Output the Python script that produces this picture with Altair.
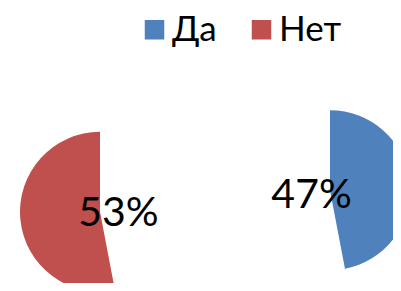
import math
import altair as alt
import pandas as pd

labels = ["Да", "Нет"]
values = [47, 53]
percent_text = ["47%", "53%"]
colors = ["#4F81BD", "#C0504D"]
order = [0, 1]

df = pd.DataFrame({"label": labels, "value": values, "text": percent_text, "order": order})

CX, CY = 207, 193       # pie centre inside the plot area
R = 80                  # slice radius
EXPLODE = 115.5         # how far each slice is pulled out
LABEL_D = 97            # distance of the percentage labels from the centre

base = (
    alt.Chart(df)
    .transform_window(cum="sum(value)", sort=[alt.SortField("order")], frame=[None, 0])
    .transform_joinaggregate(total="sum(value)")
    .transform_calculate(
        start="(datum.cum - datum.value) / datum.total",
        end="datum.cum / datum.total",
    )
    .transform_calculate(
        px=f"{CX} + {EXPLODE} * sin(PI * (datum.start + datum.end))",
        py=f"{CY} - {EXPLODE} * cos(PI * (datum.start + datum.end))",
        lx=f"{CX} + {LABEL_D} * sin(PI * (datum.start + datum.end))",
        ly=f"{CY} - {LABEL_D} * cos(PI * (datum.start + datum.end))",
    )
)

arcs = base.mark_arc(radius=R).encode(
    theta=alt.Theta("start:Q", scale=alt.Scale(domain=[0, 1], range=[0, 2 * math.pi]), stack=False),
    theta2="end:Q",
    x=alt.X("px:Q", scale=None, axis=None),
    y=alt.Y("py:Q", scale=None, axis=None),
    color=alt.Color(
        "label:N",
        scale=alt.Scale(domain=labels, range=colors),
        legend=alt.Legend(
            title=None,
            orient="none",
            legendX=129,
            legendY=4,
            direction="horizontal",
            symbolType="square",
            symbolSize=380,
            symbolStrokeWidth=0,
            symbolOpacity=1,
            labelFontSize=35,
            labelFont="Lato",
            labelColor="black",
            labelOffset=0,
            columnPadding=27,
        ),
    ),
)

texts = base.mark_text(font="Lato", fontSize=41, color="black", dy=4).encode(
    x=alt.X("lx:Q", scale=None, axis=None),
    y=alt.Y("ly:Q", scale=None, axis=None),
    text="text:N",
)

chart = (
    alt.layer(arcs, texts)
    .properties(width=385, height=275, autosize=alt.AutoSizeParams(type="none"), padding=0)
    .configure_view(strokeWidth=0)
)

chart.save("out.html", embed_options={"renderer": "svg", "actions": False})
